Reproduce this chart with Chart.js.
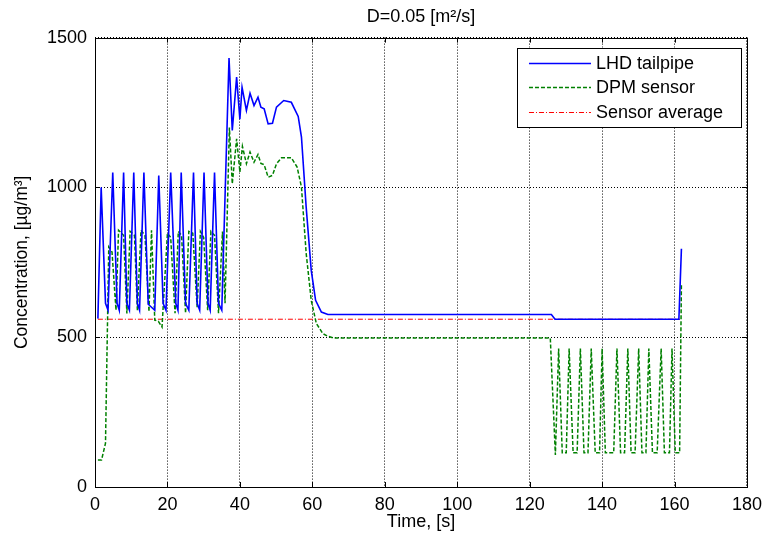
<!DOCTYPE html>
<html>
<head>
<meta charset="utf-8">
<script src="https://cdn.jsdelivr.net/npm/chart.js@4.4.1/dist/chart.umd.min.js"></script>
<style>
  html, body { margin: 0; padding: 0; background: #fff; }
</style>
</head>
<body>
<canvas id="myChart" width="769" height="538"></canvas>
<script>
// values
var lhdTime = [0.8, 1.7, 2.9, 3.6, 4.9, 6.1, 6.7, 7.9, 8.8, 9.5, 10.7, 11.7, 12.3, 13.5, 14.7, 16.5,
  17.6, 18.8, 19.6, 20.9, 22.3, 22.9, 23.8, 25.0, 25.9, 27.2, 28.2, 28.9, 30.1, 31.2, 31.8, 33.0,
  34.1, 35.0, 37.0, 37.9, 39.1, 40.0, 40.6, 41.8, 42.8, 43.9, 45.0, 45.8, 46.7, 47.8, 49.0, 50.1,
  52.1, 54.2, 56.1, 57.0, 58.3, 59.7, 60.9, 62.5, 64.3, 126.0, 127.0, 161.2, 161.9];
var lhdConc = [562, 1000, 613, 590, 1050, 613, 590, 1050, 613, 590, 1050, 613, 590, 1050, 610, 590,
  1040, 613, 590, 1050, 613, 590, 1050, 613, 590, 1050, 613, 590, 1050, 613, 590, 1050,
  613, 590, 1432, 1190, 1368, 1228, 1334, 1257, 1314, 1273, 1301, 1268, 1262, 1212, 1214, 1268,
  1290, 1284, 1237, 1168, 934, 723, 623, 584, 576, 576, 560, 560, 795];

var dpmTime = [0.8, 1.8, 2.9, 3.8, 4.7, 5.8, 6.5, 7.9, 8.8, 9.7, 10.9, 11.7, 12.7, 13.8, 14.9, 15.6,
  16.5, 17.5, 18.5, 20.0, 20.9, 22.1, 23.0, 23.9, 25.0, 25.9, 27.0, 28.2, 29.1, 30.0, 31.1, 32.0,
  33.0, 34.1, 35.2, 35.9, 37.1, 37.9, 39.1, 40.0, 40.7, 41.8, 42.8, 43.9, 45.0, 45.8, 46.7, 47.8,
  49.0, 50.1, 51.5, 54.2, 55.8, 57.0, 58.3, 59.7, 61.1, 62.9, 64.3, 66.0, 125.7, 127.1, 128.0,
  129.0, 130.1, 130.9, 132.0, 133.1, 134.0, 135.0, 136.1, 137.0, 138.1, 139.3, 140.0, 140.9, 143.2,
  144.1, 145.1, 146.2, 147.1, 148.0, 149.1, 150.1, 151.0, 152.1, 152.9, 153.9, 155.2, 156.3, 157.2,
  158.6, 159.3, 160.2, 161.4, 161.9];
var dpmConc = [90, 90, 146, 801, 784, 590, 857, 840, 579, 853, 840, 590, 857, 840, 585, 857,
  557, 553, 534, 847, 833, 580, 853, 840, 580, 853, 847, 600, 853, 833, 590, 853,
  840, 580, 853, 613, 1200, 1012, 1162, 1051, 1137, 1079, 1118, 1084, 1110, 1080, 1076, 1034,
  1040, 1079, 1099, 1099, 1068, 1001, 780, 623, 546, 512, 503, 497, 497, 107, 462,
  114, 114, 462, 114, 114, 462, 114, 114, 462, 114, 114, 462, 114, 114,
  462, 114, 114, 462, 114, 114, 462, 114, 114, 462, 114, 114, 462, 114,
  114, 462, 114, 114, 680];

var avgTime = [0.8, 161.5];
var avgConc = [560, 560];

function pts(t, v) {
  return t.map(function (x, i) { return { x: x, y: v[i] }; });
}

Chart.defaults.font.family = '"Liberation Sans", Arial, sans-serif';
Chart.defaults.color = '#000';

// box round the plot + inward ticks, like the original figure
var frame = {
  id: 'frame',
  afterDatasetsDraw: function (chart) {
    var a = chart.chartArea, c = chart.ctx;
    c.save();
    c.strokeStyle = '#000';
    c.lineWidth = 1;
    c.beginPath();
    chart.scales.x.ticks.forEach(function (t) {
      var px = Math.round(chart.scales.x.getPixelForValue(t.value)) + 0.5;
      c.moveTo(px, a.bottom); c.lineTo(px, a.bottom - 5);
      c.moveTo(px, a.top); c.lineTo(px, a.top + 5);
    });
    chart.scales.y.ticks.forEach(function (t) {
      var py = Math.round(chart.scales.y.getPixelForValue(t.value)) + 0.5;
      c.moveTo(a.left, py); c.lineTo(a.left + 5, py);
      c.moveTo(a.right, py); c.lineTo(a.right - 5, py);
    });
    c.stroke();
    c.strokeRect(Math.round(a.left) + 0.5, Math.round(a.top) + 0.5,
      Math.round(a.right - a.left), Math.round(a.bottom - a.top));
    c.restore();
  }
};

var boxLegend = {
  id: 'boxLegend',
  afterDatasetsDraw: function (chart) {
    var a = chart.chartArea, c = chart.ctx;
    var x0 = a.right - 230, y0 = a.top + 10, w = 224, h = 79;
    c.save();
    c.fillStyle = '#fff';
    c.fillRect(x0, y0, w, h);
    c.strokeStyle = '#000';
    c.lineWidth = 1;
    c.strokeRect(Math.round(x0) + 0.5, Math.round(y0) + 0.5, w, h);
    chart.data.datasets.forEach(function (ds, i) {
      var y = Math.round(y0 + 15 + i * 24.5) + 0.5;
      c.strokeStyle = ds.borderColor;
      c.lineWidth = ds.borderWidth;
      c.setLineDash(ds.borderDash || []);
      c.beginPath();
      c.moveTo(x0 + 12, y);
      c.lineTo(x0 + 74, y);
      c.stroke();
      c.setLineDash([]);
      c.fillStyle = '#000';
      c.font = '18px "Liberation Sans", Arial, sans-serif';
      c.textBaseline = 'middle';
      c.fillText(ds.label, x0 + 79, y + 1);
    });
    c.restore();
  }
};

function plain(v) { return String(v); }

var ctx = document.getElementById('myChart').getContext('2d');
var myChart = new Chart(ctx, {
  type: 'line',
  data: {
    datasets: [{
      label: 'LHD tailpipe',
      data: pts(lhdTime, lhdConc),
      borderColor: '#0000ff',
      borderWidth: 1.6,
      pointRadius: 0,
      tension: 0
    }, {
      label: 'DPM sensor',
      data: pts(dpmTime, dpmConc),
      borderColor: '#008000',
      borderWidth: 1.5,
      borderDash: [4, 2],
      pointRadius: 0,
      tension: 0
    }, {
      label: 'Sensor average',
      data: pts(avgTime, avgConc),
      borderColor: '#ff0000',
      borderWidth: 1,
      borderDash: [5, 2, 1, 2],
      pointRadius: 0,
      tension: 0
    }]
  },
  options: {
    responsive: false,
    animation: false,
    layout: { padding: { left: 0, right: 14, top: 0, bottom: 0 } },
    plugins: {
      legend: { display: false },
      tooltip: { enabled: false },
      title: {
        display: true,
        fullSize: false,
        text: 'D=0.05 [m\u00b2/s]',
        font: { size: 18, weight: 'normal' },
        padding: { top: 6, bottom: 10 }
      }
    },
    scales: {
      x: {
        type: 'linear',
        min: 0,
        max: 180,
        ticks: { stepSize: 20, padding: 7, font: { size: 18 }, maxRotation: 0, callback: plain },
        grid: { color: '#000', lineWidth: 1, drawTicks: false },
        border: { display: false, dash: [1, 2] },
        title: { display: true, text: 'Time, [s]', font: { size: 18 }, padding: { top: 0, bottom: 5 } },
        afterFit: function (s) { s.height = 51; }
      },
      y: {
        min: 0,
        max: 1500,
        ticks: { stepSize: 500, padding: 8, font: { size: 18 }, callback: plain },
        grid: { color: '#000', lineWidth: 1, drawTicks: false },
        border: { display: false, dash: [1, 2] },
        title: { display: true, text: 'Concentration, [\u00b5g/m\u00b3]', font: { size: 17.5 }, padding: { top: 12, bottom: 0 } },
        afterFit: function (s) { s.width = 95; }
      }
    }
  },
  plugins: [frame, boxLegend]
});
</script>
</body>
</html>
